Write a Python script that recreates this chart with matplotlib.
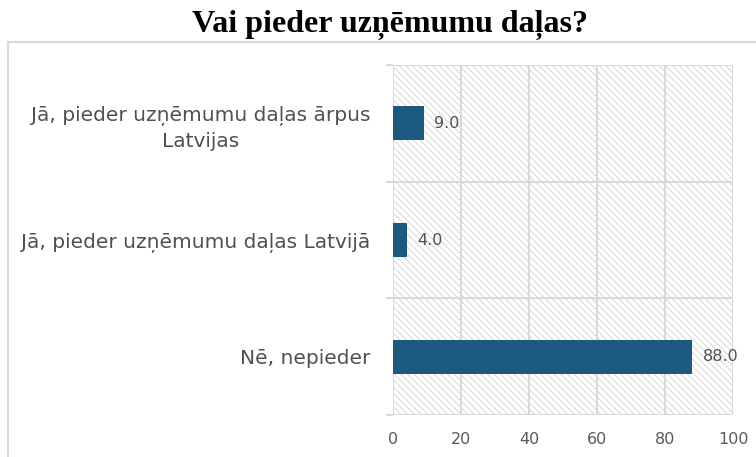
import numpy as np
import matplotlib.pyplot as plt
from matplotlib.patches import Rectangle

categories = ["Nē, nepieder",
              "Jā, pieder uzņēmumu daļas Latvijā",
              "Jā, pieder uzņēmumu daļas ārpus\nLatvijas"]
values = [88.0, 4.0, 9.0]
xticks = [0, 20, 40, 60, 80, 100]

plt.rcParams['hatch.color'] = '#d0d0d0'
plt.rcParams['hatch.linewidth'] = 0.6

fig = plt.figure(figsize=(7.56, 4.57), dpi=100)
# chart frame
fig.patches.append(Rectangle((8/756, -0.05), 1.0, 1 - 42/457 + 0.05, transform=fig.transFigure,
                             fill=False, edgecolor='#d9d9d9', linewidth=1.5))
ax = fig.add_axes([393/756, 1 - 415/457, 340/756, 350/457])

ax.patch.set_facecolor('white')
ax.patch.set_hatch('\\\\\\\\\\')
ax.patch.set_edgecolor('#d0d0d0')

y = np.arange(len(categories))
ax.barh(y, values, height=0.29, color='#1b5a7e', zorder=3)
for yi, v in zip(y, values):
    ax.text(v + 3.2, yi, f"{v:.1f}", va='center', ha='left', fontsize=11.5, color='#505050')

ax.set_xlim(0, 100)
ax.set_ylim(-0.5, 2.5)
ax.set_xticks(xticks)
ax.set_yticks(y)
ax.set_yticklabels(categories, fontsize=14.5, color='#505050', linespacing=1.4)
for lab in ax.get_yticklabels():
    lab.set_multialignment('center')
ax.set_yticks([-0.5, 0.5, 1.5, 2.5], minor=True)
ax.tick_params(axis='y', which='major', length=0, pad=16.5)
ax.tick_params(axis='y', which='minor', length=5, color='#d9d9d9', width=1.5)
ax.tick_params(axis='x', length=0, labelsize=11.5, labelcolor='#595959', pad=12)
ax.grid(axis='x', color='#d9d9d9', linewidth=1.5, zorder=1)
ax.grid(axis='y', which='minor', color='#d9d9d9', linewidth=1.5, zorder=1)
for s in ax.spines.values():
    s.set_visible(False)
ax.set_axisbelow(True)

fig.text(390/756, 1 - 25/457, "Vai pieder uzņēmumu daļas?", ha='center', va='center',
         fontsize=23, fontweight='bold', family='Liberation Serif')

fig.savefig("out.png", dpi=100)
